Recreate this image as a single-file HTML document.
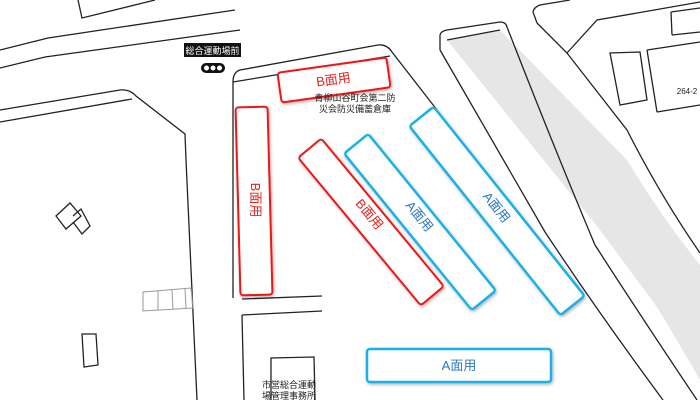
<!DOCTYPE html>
<html><head><meta charset="utf-8"><style>
html,body{margin:0;padding:0;background:#fff;width:700px;height:400px;overflow:hidden}
svg{display:block}
text{font-family:"Liberation Sans","Noto Sans CJK JP",sans-serif}
</style></head><body>
<svg width="700" height="400" viewBox="0 0 700 400" xmlns="http://www.w3.org/2000/svg">
<defs>
<filter id="sh" x="-20%" y="-20%" width="140%" height="140%"><feDropShadow dx="1" dy="1.5" stdDeviation="1.5" flood-color="#000" flood-opacity="0.3"/></filter>
</defs>
<!-- gray band -->
<path d="M447,40 L500,30 L627,160 Q660,215 700,265 L700,380 Q680,345 657,307 L600,230 Z" fill="#e6e6e6"/>
<g fill="none" stroke="#222" stroke-width="1.3">
<!-- top-left roads -->
<path d="M0,50 L48,38 L235,10"/>
<path d="M0,68 L45,57 L240,30"/>
<path d="M78,0 L82,18 L155,0"/>
<path d="M0,110 L120,90 Q130,89 136,96 L185,134 L186,160 L197,400"/>
<path d="M0,122 L132,99"/>
<!-- central block -->
<path d="M233,298 L233,82 Q233,72 240,70 L378,45 Q387,44 392,52 L437,110"/>
<path d="M233,82 L390,56"/>
<path d="M242,299 L322,296"/>
<path d="M242,315 L322,311"/>
<path d="M242,315 L244,400"/>
<path d="M271,400 L271,358 L314,357 L315,400"/>
<!-- right roads -->
<path d="M440,50 L440,35 Q441,31 447,30 L500,22 Q506,22 507,27"/>
<path d="M447,40 L500,30"/>
<path d="M440,50 L545,232 Q600,315 663,400"/>
<path d="M507,27 Q555,150 595,245 Q640,315 697,400"/>
<path d="M537,23 L533,12 Q534,7 540,5 L570,0"/>
<path d="M537,23 L567,53 L627,130 Q660,195 700,253"/>
<path d="M567,53 L597,20 L700,2"/>
<path d="M610,53 L640,52 L647,100 L620,105 Z"/>
<path d="M647,50 L700,42 M657,112 L700,105 M647,50 L657,112"/>
<path d="M671,12 L700,8 M672,35 L700,32 M671,12 L672,35"/>
<!-- left small buildings -->
<path d="M56,216 L70,203 L81,216 L66,229 Z"/>
<path d="M73,216 L81,209 L90,226 L82,234 L73,222"/>
<path d="M82,334 L96,334 L98,365 L84,367 Z"/>
</g>
<g fill="none" stroke="#999" stroke-width="1">
<path d="M143,292 L191,288 L193,308 L143,311 Z M158,291 L158,310 M172,290 L173,309 M185,289 L186,308"/>
</g>
<text x="687" y="94" font-size="8" text-anchor="middle" fill="#222">264-2</text>
<!-- bus stop -->
<rect x="184" y="43" width="57" height="14" fill="#111"/>
<text x="212.5" y="54" font-size="9" text-anchor="middle" fill="#fff">総合運動場前</text>
<rect x="201" y="63" width="24" height="10" rx="5" fill="#111"/>
<circle cx="206.5" cy="68" r="2.5" fill="#fff"/><circle cx="213" cy="68" r="2.5" fill="#fff"/><circle cx="219.5" cy="68" r="2.5" fill="#fff"/>
<!-- parking B -->
<g filter="url(#sh)" fill="#fff" stroke="#f01515" stroke-width="2">
<rect x="-55" y="-15" width="110" height="30" rx="3" transform="translate(334,80) rotate(-8)"/>
<rect x="-16" y="-94" width="32" height="188" rx="3" transform="translate(254,201) rotate(-1.5)"/>
<rect x="-96" y="-15" width="192" height="30" rx="3" transform="translate(371,222) rotate(50.3)"/>
</g>
<g fill="#fff" stroke="#1ab0e8" stroke-width="2.5" filter="url(#sh)">
<rect x="-101" y="-15.5" width="202" height="31" rx="3" transform="translate(420,222) rotate(50.8)"/>
<rect x="-121" y="-15.5" width="242" height="31" rx="3" transform="translate(497,211) rotate(51.4)"/>
<rect x="367" y="349" width="184" height="33" rx="3"/>
</g>
<text x="355" y="101" font-size="9" text-anchor="middle" fill="#222">青柳山谷町会第二防</text>
<text x="355" y="112" font-size="9" text-anchor="middle" fill="#222">災会防災備蓄倉庫</text>
<text x="289" y="388" font-size="9" text-anchor="middle" fill="#222">市営総合運動</text>
<text x="289" y="399" font-size="9" text-anchor="middle" fill="#222">場管理事務所</text>
<g font-size="13" fill="#e82020" text-anchor="middle">
<text transform="translate(334,84) rotate(-8)">B面用</text>
<text transform="translate(251,200) rotate(90)">B面用</text>
<text transform="translate(366,217) rotate(50.3)">B面用</text>
</g>
<g font-size="13" fill="#2a78c0" text-anchor="middle">
<text transform="translate(416,219) rotate(50.8)">A面用</text>
<text transform="translate(493,210) rotate(51.4)">A面用</text>
<text x="459" y="370">A面用</text>
</g>
</svg>
</body></html>
